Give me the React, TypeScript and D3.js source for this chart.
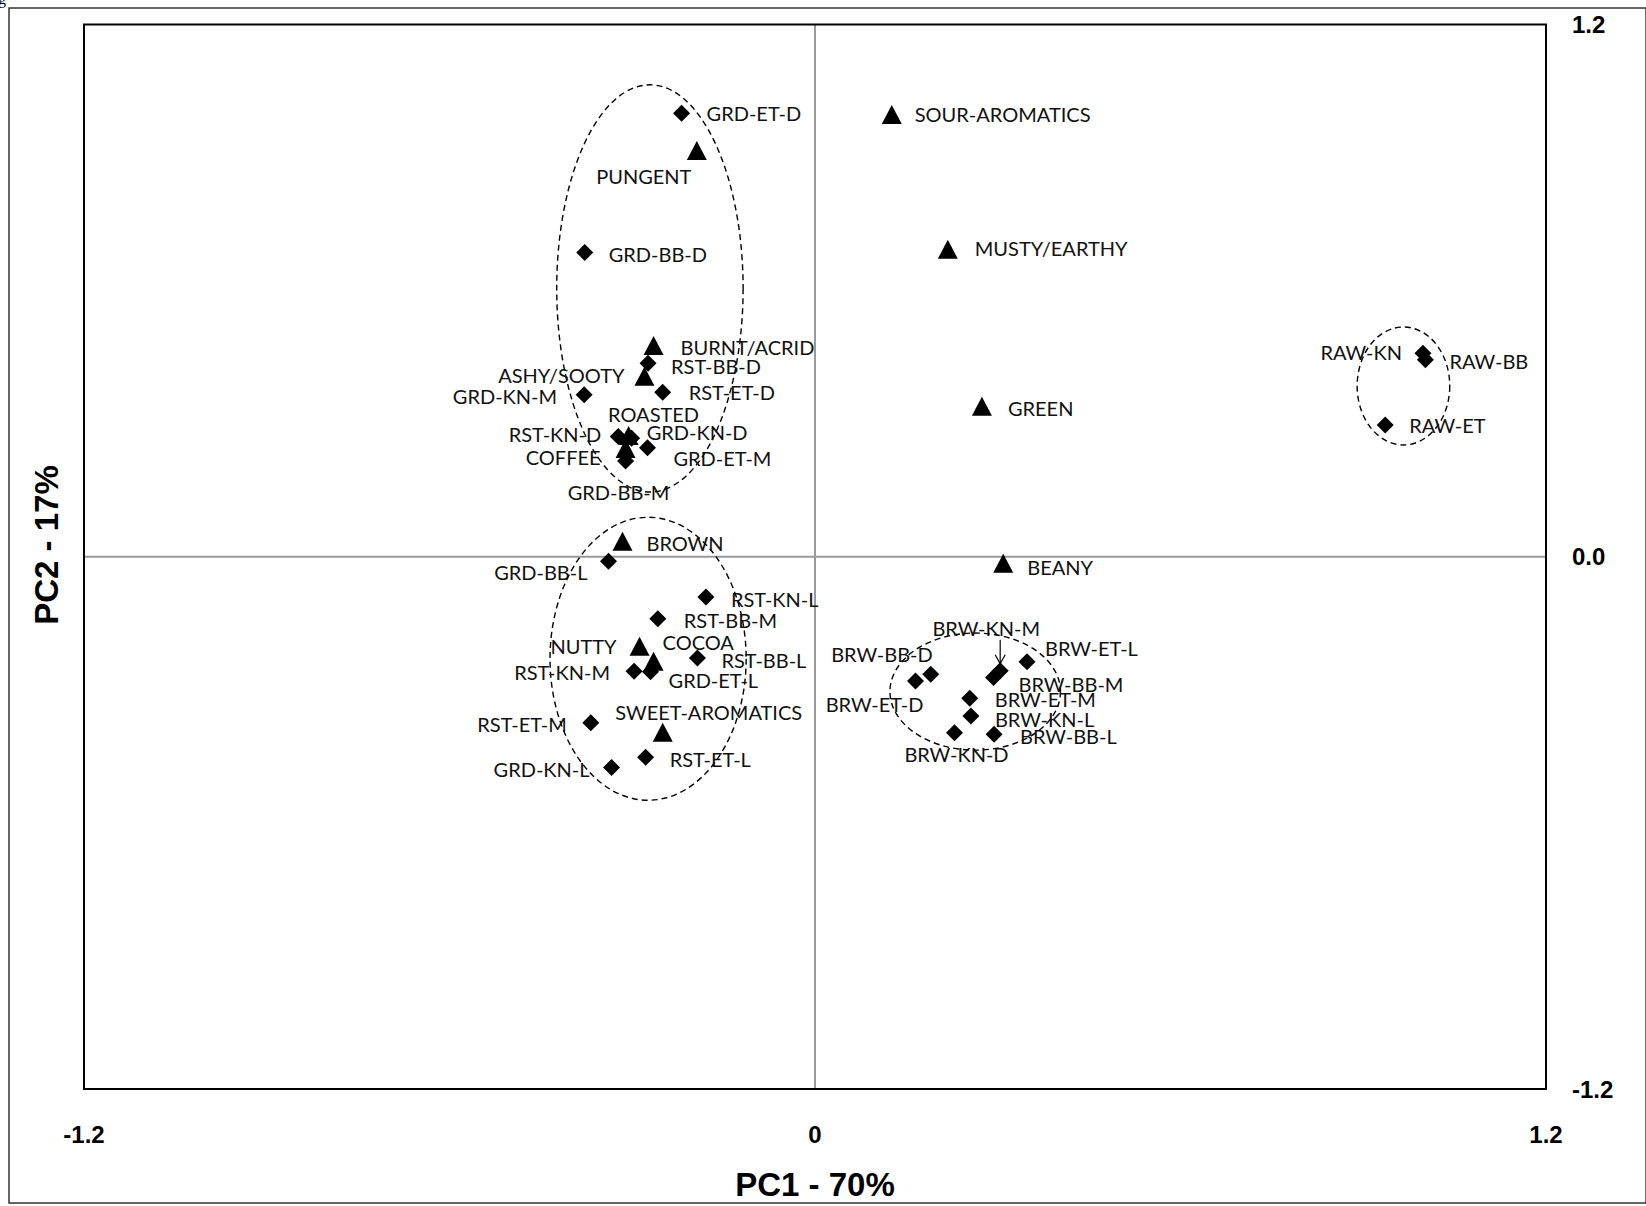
import React from 'react';
import * as d3 from 'd3';

// sensory attributes (triangles)
const attributes = ['SOUR-AROMATICS', 'PUNGENT', 'MUSTY/EARTHY', 'BURNT/ACRID', 'ASHY/SOOTY', 'GREEN', 'ROASTED', 'COFFEE', 'BROWN', 'BEANY', 'NUTTY', 'COCOA', 'SWEET-AROMATICS'];
const attrPC1 = [0.126, -0.194, 0.218, -0.265, -0.280, 0.274, -0.306, -0.311, -0.316, 0.309, -0.288, -0.265, -0.250];
const attrPC2 = [0.996, 0.915, 0.692, 0.475, 0.406, 0.338, 0.272, 0.243, 0.034, -0.016, -0.203, -0.237, -0.397];

// samples (diamonds)
const samples = ['GRD-ET-D', 'GRD-BB-D', 'RST-BB-D', 'GRD-KN-M', 'RST-ET-D', 'RST-KN-D', 'GRD-KN-D', 'GRD-ET-M', 'GRD-BB-M',
  'GRD-BB-L', 'RST-KN-L', 'RST-BB-M', 'RST-BB-L', 'RST-KN-M', 'GRD-ET-L', 'RST-ET-M', 'RST-ET-L', 'GRD-KN-L',
  'BRW-BB-D', 'BRW-ET-D', 'BRW-KN-M', 'BRW-BB-M', 'BRW-ET-L', 'BRW-ET-M', 'BRW-KN-L', 'BRW-KN-D', 'BRW-BB-L',
  'RAW-KN', 'RAW-BB', 'RAW-ET'];
const samplePC1 = [-0.219, -0.378, -0.274, -0.379, -0.250, -0.323, -0.301, -0.275, -0.311,
  -0.339, -0.179, -0.258, -0.193, -0.297, -0.270, -0.368, -0.278, -0.334,
  0.190, 0.165, 0.304, 0.293, 0.348, 0.254, 0.256, 0.229, 0.294,
  0.998, 1.002, 0.936];
const samplePC2 = [1.000, 0.686, 0.436, 0.365, 0.371, 0.271, 0.267, 0.246, 0.216,
  -0.010, -0.091, -0.140, -0.228, -0.258, -0.259, -0.374, -0.452, -0.475,
  -0.265, -0.280, -0.257, -0.272, -0.237, -0.319, -0.359, -0.397, -0.400,
  0.459, 0.444, 0.297];

// dashed group ellipses
const groupCX = [-0.271, -0.274, 0.263, 0.966];
const groupCY = [0.605, -0.230, -0.304, 0.385];
const groupRX = [0.153, 0.161, 0.140, 0.076];
const groupRY = [0.459, 0.319, 0.132, 0.133];

const ticks = [-1.2, 0, 1.2];
const xTickLabels = ['-1.2', '0', '1.2'];
const yTickLabels = ['-1.2', '0.0', '1.2'];

// label placement: [anchor, dx, dy] in px
const labelPos: Record<string, [string, number, number]> = {
  'GRD-ET-D': ['start', 25, 1], 'GRD-BB-D': ['start', 24, 2], 'RST-BB-D': ['start', 23, 3],
  'GRD-KN-M': ['end', -27, 2], 'RST-ET-D': ['start', 26, 1], 'RST-KN-D': ['end', -17, -2],
  'GRD-KN-D': ['start', 15, -6], 'GRD-ET-M': ['start', 26, 11], 'GRD-BB-M': ['middle', -7, 32],
  'GRD-BB-L': ['end', -21, 12], 'RST-KN-L': ['start', 25, 3], 'RST-BB-M': ['start', 26, 2],
  'RST-BB-L': ['start', 24, 3], 'RST-KN-M': ['end', -24, 2], 'GRD-ET-L': ['start', 18, 9],
  'RST-ET-M': ['end', -24, 2], 'RST-ET-L': ['start', 24, 3], 'GRD-KN-L': ['end', -22, 2],
  'BRW-BB-D': ['end', 2, -19], 'BRW-ET-D': ['end', 8, 24], 'BRW-KN-M': ['middle', -14, -42],
  'BRW-BB-M': ['start', 25, 7], 'BRW-ET-L': ['start', 18, -13], 'BRW-ET-M': ['start', 25, 2],
  'BRW-KN-L': ['start', 24, 4], 'BRW-KN-D': ['middle', 2, 22], 'BRW-BB-L': ['start', 26, 3],
  'RAW-KN': ['end', -21, 0], 'RAW-BB': ['start', 24, 2], 'RAW-ET': ['start', 24, 1],
  'SOUR-AROMATICS': ['start', 23, 0], 'PUNGENT': ['middle', -53, 26], 'MUSTY/EARTHY': ['start', 27, -1],
  'BURNT/ACRID': ['start', 27, 2], 'ASHY/SOOTY': ['end', -20, -1], 'GREEN': ['start', 26, 2],
  'ROASTED': ['middle', 25, -21], 'COFFEE': ['end', -25, 9], 'BROWN': ['start', 24, 2],
  'BEANY': ['start', 24, 4], 'NUTTY': ['end', -23, 0], 'COCOA': ['start', 9, -19],
  'SWEET-AROMATICS': ['middle', 46, -20],
};

const W = 1646;
const H = 1206;
const plot = { left: 84, right: 1546, top: 24.5, bottom: 1089 };

const App = () => {
  const x = d3.scaleLinear().domain([-1.2, 1.2]).range([plot.left, plot.right]);
  const y = d3.scaleLinear().domain([-1.2, 1.2]).range([plot.bottom, plot.top]);
  const labelFont = 'Lato, sans-serif';
  const axisFont = '"Liberation Sans", Arial, sans-serif';

  const label = (name: string, px: number, py: number) => {
    const [anchor, dx, dy] = labelPos[name] || ['start', 22, 0];
    return (
      <text key={'l' + name} x={px + dx} y={py + dy} dy="0.36em" textAnchor={anchor}
        fontFamily={labelFont} fontSize={20} fill="#111">{name}</text>
    );
  };

  const kn = samples.indexOf('BRW-KN-M');
  const knX = x(samplePC1[kn]);
  const knY = y(samplePC2[kn]);

  return (
    <svg width={W} height={H} style={{ position: 'absolute', left: 0, top: 0, background: '#fff' }}>
      <rect x={0} y={0} width={W} height={H} fill="#fff" />
      <text x={-2} y={4} fontFamily="serif" fontSize={16} fill="#000">g</text>
      <rect x={9} y={8} width={1637} height={1195} fill="none" stroke="#333" strokeWidth={1.5} />

      {/* zero lines */}
      <line x1={x(0)} x2={x(0)} y1={plot.top} y2={plot.bottom} stroke="#999" strokeWidth={2} />
      <line x1={plot.left} x2={plot.right} y1={y(0)} y2={y(0)} stroke="#999" strokeWidth={2} />

      <rect x={plot.left} y={plot.top} width={plot.right - plot.left} height={plot.bottom - plot.top}
        fill="none" stroke="#000" strokeWidth={2} />

      {/* group ellipses */}
      {groupCX.map((cx, i) => (
        <ellipse key={'e' + i} cx={x(cx)} cy={y(groupCY[i])}
          rx={x(groupRX[i]) - x(0)} ry={y(0) - y(groupRY[i])}
          fill="none" stroke="#000" strokeWidth={1.4} strokeDasharray="6,4" />
      ))}

      {/* arrow for BRW-KN-M */}
      <line x1={knX} x2={knX} y1={knY - 31} y2={knY - 7} stroke="#000" strokeWidth={1.2} />
      <polyline points={`${knX - 5},${knY - 16} ${knX},${knY - 7} ${knX + 5},${knY - 16}`} fill="none" stroke="#000" strokeWidth={1.2} />

      {/* samples */}
      {samples.map((s, i) => {
        const px = x(samplePC1[i]);
        const py = y(samplePC2[i]);
        return (
          <g key={s}>
            <path d={`M${px},${py - 8.5}L${px + 8.5},${py}L${px},${py + 8.5}L${px - 8.5},${py}Z`} fill="#000" />
            {label(s, px, py)}
          </g>
        );
      })}

      {/* attributes */}
      {attributes.map((a, i) => {
        const px = x(attrPC1[i]);
        const py = y(attrPC2[i]);
        return (
          <g key={a}>
            <path d={`M${px},${py - 10}L${px + 10},${py + 9}L${px - 10},${py + 9}Z`} fill="#000" />
            {label(a, px, py)}
          </g>
        );
      })}

      {/* y tick labels on right */}
      {ticks.map((t, i) => (
        <text key={'yt' + i} x={1572} y={y(t)} dy="0.36em" fontFamily={axisFont} fontWeight="bold"
          fontSize={24} fill="#000">{yTickLabels[i]}</text>
      ))}
      {/* x tick labels */}
      {ticks.map((t, i) => (
        <text key={'xt' + i} x={x(t)} y={1134} dy="0.36em" textAnchor="middle" fontFamily={axisFont}
          fontWeight="bold" fontSize={24} fill="#000">{xTickLabels[i]}</text>
      ))}

      <text x={x(0)} y={1184} dy="0.36em" textAnchor="middle" fontFamily={axisFont} fontWeight="bold"
        fontSize={33} fill="#000">PC1 - 70%</text>
      <text transform="translate(46,545) rotate(-90)" dy="0.36em" textAnchor="middle" fontFamily={axisFont}
        fontWeight="bold" fontSize={33} fill="#000">PC2 - 17%</text>
    </svg>
  );
};

export default App;
